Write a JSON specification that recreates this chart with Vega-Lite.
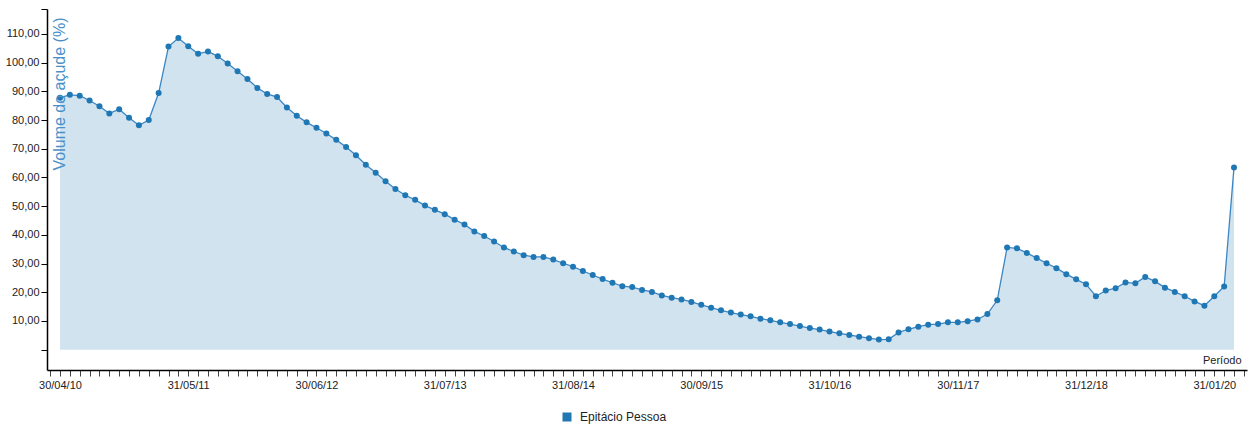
{
  "$schema": "https://vega.github.io/schema/vega-lite/v6.json",
  "autosize": "none",
  "width": 1200,
  "height": 361,
  "padding": {"left": 47, "top": 9, "right": 5, "bottom": 57},
  "config": {
    "view": {"stroke": null},
    "font": "Liberation Sans",
    "axis": {"grid": false, "labelFont": "Liberation Sans", "titleFont": "Liberation Sans"},
    "legend": {"labelFont": "Liberation Sans"}
  },
  "data": {
    "values": [
      {"data": "30/04/10", "v": 87.8}, {"data": "31/05/10", "v": 88.8}, {"data": "30/06/10", "v": 88.5}, {"data": "31/07/10", "v": 86.8},
      {"data": "31/08/10", "v": 84.8}, {"data": "30/09/10", "v": 82.3}, {"data": "31/10/10", "v": 83.8}, {"data": "30/11/10", "v": 80.8},
      {"data": "31/12/10", "v": 78.2}, {"data": "31/01/11", "v": 80.0}, {"data": "28/02/11", "v": 89.4}, {"data": "31/03/11", "v": 105.6},
      {"data": "30/04/11", "v": 108.6}, {"data": "31/05/11", "v": 105.7}, {"data": "30/06/11", "v": 103.1}, {"data": "31/07/11", "v": 103.9},
      {"data": "31/08/11", "v": 102.2}, {"data": "30/09/11", "v": 99.7}, {"data": "31/10/11", "v": 97.0}, {"data": "30/11/11", "v": 94.3},
      {"data": "31/12/11", "v": 91.2}, {"data": "31/01/12", "v": 89.1}, {"data": "29/02/12", "v": 88.0}, {"data": "31/03/12", "v": 84.4},
      {"data": "30/04/12", "v": 81.5}, {"data": "31/05/12", "v": 79.2}, {"data": "30/06/12", "v": 77.3}, {"data": "31/07/12", "v": 75.3},
      {"data": "31/08/12", "v": 73.1}, {"data": "30/09/12", "v": 70.6}, {"data": "31/10/12", "v": 67.7}, {"data": "30/11/12", "v": 64.4},
      {"data": "31/12/12", "v": 61.6}, {"data": "31/01/13", "v": 58.7}, {"data": "28/02/13", "v": 56.0}, {"data": "31/03/13", "v": 53.8},
      {"data": "30/04/13", "v": 52.2}, {"data": "31/05/13", "v": 50.2}, {"data": "30/06/13", "v": 48.7}, {"data": "31/07/13", "v": 47.2},
      {"data": "31/08/13", "v": 45.3}, {"data": "30/09/13", "v": 43.6}, {"data": "31/10/13", "v": 41.2}, {"data": "30/11/13", "v": 39.6},
      {"data": "31/12/13", "v": 37.7}, {"data": "31/01/14", "v": 35.6}, {"data": "28/02/14", "v": 34.2}, {"data": "31/03/14", "v": 32.9},
      {"data": "30/04/14", "v": 32.3}, {"data": "31/05/14", "v": 32.3}, {"data": "30/06/14", "v": 31.4}, {"data": "31/07/14", "v": 30.1},
      {"data": "31/08/14", "v": 28.9}, {"data": "30/09/14", "v": 27.4}, {"data": "31/10/14", "v": 26.0}, {"data": "30/11/14", "v": 24.6},
      {"data": "31/12/14", "v": 23.3}, {"data": "31/01/15", "v": 22.1}, {"data": "28/02/15", "v": 21.8}, {"data": "31/03/15", "v": 20.8},
      {"data": "30/04/15", "v": 20.1}, {"data": "31/05/15", "v": 18.9}, {"data": "30/06/15", "v": 18.1}, {"data": "31/07/15", "v": 17.5},
      {"data": "31/08/15", "v": 16.6}, {"data": "30/09/15", "v": 15.6}, {"data": "31/10/15", "v": 14.6}, {"data": "30/11/15", "v": 13.7},
      {"data": "31/12/15", "v": 12.9}, {"data": "31/01/16", "v": 12.2}, {"data": "29/02/16", "v": 11.6}, {"data": "31/03/16", "v": 10.8},
      {"data": "30/04/16", "v": 10.2}, {"data": "31/05/16", "v": 9.5}, {"data": "30/06/16", "v": 8.9}, {"data": "31/07/16", "v": 8.2},
      {"data": "31/08/16", "v": 7.5}, {"data": "30/09/16", "v": 7.0}, {"data": "31/10/16", "v": 6.3}, {"data": "30/11/16", "v": 5.7},
      {"data": "31/12/16", "v": 5.1}, {"data": "31/01/17", "v": 4.5}, {"data": "28/02/17", "v": 4.0}, {"data": "31/03/17", "v": 3.5},
      {"data": "30/04/17", "v": 3.6}, {"data": "31/05/17", "v": 6.0}, {"data": "30/06/17", "v": 7.1}, {"data": "31/07/17", "v": 8.0},
      {"data": "31/08/17", "v": 8.7}, {"data": "30/09/17", "v": 8.9}, {"data": "31/10/17", "v": 9.5}, {"data": "30/11/17", "v": 9.5},
      {"data": "31/12/17", "v": 9.9}, {"data": "31/01/18", "v": 10.5}, {"data": "28/02/18", "v": 12.4}, {"data": "31/03/18", "v": 17.2},
      {"data": "30/04/18", "v": 35.6}, {"data": "31/05/18", "v": 35.3}, {"data": "30/06/18", "v": 33.7}, {"data": "31/07/18", "v": 31.9},
      {"data": "31/08/18", "v": 30.1}, {"data": "30/09/18", "v": 28.4}, {"data": "31/10/18", "v": 26.3}, {"data": "30/11/18", "v": 24.5},
      {"data": "31/12/18", "v": 22.8}, {"data": "31/01/19", "v": 18.6}, {"data": "28/02/19", "v": 20.6}, {"data": "31/03/19", "v": 21.4},
      {"data": "30/04/19", "v": 23.4}, {"data": "31/05/19", "v": 23.1}, {"data": "30/06/19", "v": 25.3}, {"data": "31/07/19", "v": 23.8},
      {"data": "31/08/19", "v": 21.6}, {"data": "30/09/19", "v": 20.1}, {"data": "31/10/19", "v": 18.6}, {"data": "30/11/19", "v": 16.8},
      {"data": "31/12/19", "v": 15.3}, {"data": "31/01/20", "v": 18.6}, {"data": "29/02/20", "v": 22.0}, {"data": "31/03/20", "v": 63.5}
    ]
  },
  "encoding": {
    "x": {
      "field": "data",
      "type": "ordinal",
      "scale": {
        "type": "point",
        "padding": 0.316,
        "domain": [
          "31/03/10",
          "30/04/10","31/05/10","30/06/10","31/07/10","31/08/10","30/09/10","31/10/10","30/11/10","31/12/10",
          "31/01/11","28/02/11","31/03/11","30/04/11","31/05/11","30/06/11","31/07/11","31/08/11","30/09/11","31/10/11","30/11/11","31/12/11",
          "31/01/12","29/02/12","31/03/12","30/04/12","31/05/12","30/06/12","31/07/12","31/08/12","30/09/12","31/10/12","30/11/12","31/12/12",
          "31/01/13","28/02/13","31/03/13","30/04/13","31/05/13","30/06/13","31/07/13","31/08/13","30/09/13","31/10/13","30/11/13","31/12/13",
          "31/01/14","28/02/14","31/03/14","30/04/14","31/05/14","30/06/14","31/07/14","31/08/14","30/09/14","31/10/14","30/11/14","31/12/14",
          "31/01/15","28/02/15","31/03/15","30/04/15","31/05/15","30/06/15","31/07/15","31/08/15","30/09/15","31/10/15","30/11/15","31/12/15",
          "31/01/16","29/02/16","31/03/16","30/04/16","31/05/16","30/06/16","31/07/16","31/08/16","30/09/16","31/10/16","30/11/16","31/12/16",
          "31/01/17","28/02/17","31/03/17","30/04/17","31/05/17","30/06/17","31/07/17","31/08/17","30/09/17","31/10/17","30/11/17","31/12/17",
          "31/01/18","28/02/18","31/03/18","30/04/18","31/05/18","30/06/18","31/07/18","31/08/18","30/09/18","31/10/18","30/11/18","31/12/18",
          "31/01/19","28/02/19","31/03/19","30/04/19","31/05/19","30/06/19","31/07/19","31/08/19","30/09/19","31/10/19","30/11/19","31/12/19",
          "31/01/20","29/02/20","31/03/20",
          "30/04/20"
        ]
      },
      "axis": {
        "title": "Período",
        "titleFontSize": 11,
        "titleFontWeight": "normal",
        "titleColor": "#222",
        "titleAnchor": "end",
        "titleAlign": "right",
        "titleBaseline": "alphabetic",
        "titleX": 1194,
        "titleY": -7,
        "labelAngle": 0,
        "labelOverlap": false,
        "labelFontSize": 11,
        "labelColor": "#222",
        "labelPadding": 3,
        "labelExpr": "indexof(['30/04/10','31/05/11','30/06/12','31/07/13','31/08/14','30/09/15','31/10/16','30/11/17','31/12/18','31/01/20'], datum.value) >= 0 ? datum.value : ''",
        "tickSize": 6,
        "tickColor": "#444",
        "domainColor": "#000",
        "domainWidth": 1.5
      }
    },
    "y": {
      "field": "v",
      "type": "quantitative",
      "scale": {"domain": [-7.1, 118.7], "nice": false, "zero": false},
      "axis": {
        "zindex": 1,
        "title": "Volume do açude (%)",
        "titleFontSize": 16,
        "titleFontWeight": "normal",
        "titleColor": "#4a90c8",
        "titleAngle": -90,
        "titleAlign": "right",
        "titleBaseline": "middle",
        "titleX": 12,
        "titleY": 8,
        "values": [0, 10, 20, 30, 40, 50, 60, 70, 80, 90, 100, 110, 118.7],
        "labelExpr": "datum.value >= 10 && datum.value <= 110 ? replace(format(datum.value, '.2f'), '.', ',') : ''",
        "labelFontSize": 11,
        "labelColor": "#222",
        "labelPadding": 2,
        "tickSize": 6,
        "tickColor": "#000",
        "domainColor": "#000",
        "domainWidth": 1.5
      }
    }
  },
  "layer": [
    {
      "mark": {"type": "area", "color": "#d2e3f0", "opacity": 1},
      "encoding": {"y2": {"datum": 0}}
    },
    {
      "mark": {"type": "line", "color": "#3a86c4", "strokeWidth": 1.3},
      "encoding": {}
    },
    {
      "mark": {"type": "circle", "size": 36, "opacity": 1},
      "encoding": {
        "color": {
          "datum": "Epitácio Pessoa",
          "scale": {"range": ["#1f77b4"]},
          "legend": {
            "title": null,
            "orient": "none",
            "legendX": 514,
            "legendY": 402,
            "symbolType": "square",
            "symbolSize": 81,
            "labelFontSize": 12,
            "labelColor": "#222",
            "labelOffset": 7
          }
        }
      }
    }
  ]
}
